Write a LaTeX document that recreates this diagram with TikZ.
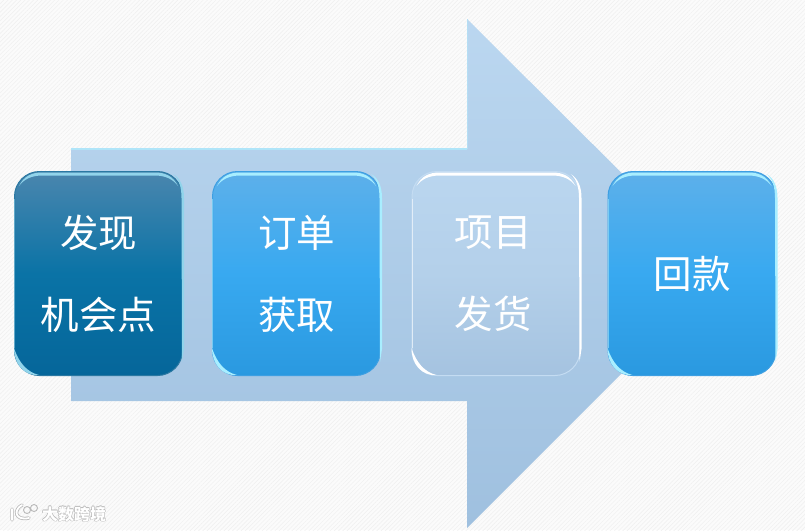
\documentclass[tikz,border=0pt]{standalone}
\usepackage{fontspec}
\newfontfamily\cjk{Noto Sans CJK SC}
\usetikzlibrary{calc,patterns.meta}
\definecolor{pagebg}{HTML}{FBFBFB}
\definecolor{hatch}{HTML}{F1F1F1}
\tikzset{
  x=1pt,y=-1pt,
  boxbase/.style={rounded corners=25pt,minimum width=168pt,minimum height=204pt,inner sep=0pt,
     text=white,align=center,font=\fontsize{38.5}{82}\selectfont\cjk,line width=1pt},
  deepbox/.style={boxbase,draw=deepE,top color=deepA,bottom color=deepC,middle color=deepB},
  bluebox/.style={boxbase,draw=blueE,top color=blueA,bottom color=blueC,middle color=blueB},
  palebox/.style={boxbase,draw=paleE,top color=paleA,bottom color=paleC,middle color=paleB},
  mark text/.style={font=\fontsize{16}{16}\selectfont\cjk\bfseries,text=white,inner sep=0pt},
}
\definecolor{deepA}{HTML}{4A86AE}\definecolor{deepB}{HTML}{0A73A6}\definecolor{deepC}{HTML}{05669A}\definecolor{deepE}{HTML}{2A78A2}
\definecolor{blueA}{HTML}{5DB0EA}\definecolor{blueB}{HTML}{38A9F0}\definecolor{blueC}{HTML}{2A99E0}\definecolor{blueE}{HTML}{3D9FE2}
\definecolor{paleA}{HTML}{BAD6EF}\definecolor{paleB}{HTML}{B4D0EA}\definecolor{paleC}{HTML}{A5C3E0}\definecolor{paleE}{HTML}{C4DCF2}
\definecolor{arrowA}{HTML}{BBD7F0}\definecolor{arrowM}{HTML}{B4D1EB}\definecolor{arrowB}{HTML}{9FC0DF}
\definecolor{rimc}{HTML}{A8EEFF}
% crescent highlights that follow the box edge
\newcommand{\boxrims}[2]{%
  % top stripe, tapered into both corners
  \fill[#2] ($(#1.north west)+(5,15)$) .. controls ($(#1.north west)+(10,5)$) and ($(#1.north west)+(18,1.5)$) .. ($(#1.north west)+(28,1.5)$)
     -- ($(#1.north east)+(-28,1.5)$) .. controls ($(#1.north east)+(-18,1.5)$) and ($(#1.north east)+(-10,5)$) .. ($(#1.north east)+(-5,15)$)
     .. controls ($(#1.north east)+(-10,8)$) and ($(#1.north east)+(-18,4.5)$) .. ($(#1.north east)+(-28,4.5)$)
     -- ($(#1.north west)+(28,4.5)$) .. controls ($(#1.north west)+(18,4.5)$) and ($(#1.north west)+(10,8)$) .. cycle;
  % right edge
  \fill[#2] ($(#1.north east)+(-10,3)$) .. controls ($(#1.north east)+(-3,7)$) and ($(#1.north east)+(1,15)$) .. ($(#1.north east)+(1,27)$)
     -- ($(#1.south east)+(1,-27)$) .. controls ($(#1.south east)+(0.5,-20)$) .. ($(#1.south east)+(-1,-14)$)
     -- ($(#1.north east)+(-1.5,27)$) .. controls ($(#1.north east)+(-1.5,16)$) and ($(#1.north east)+(-4,8)$) .. cycle;
  % bottom-left crescent
  \fill[#2] ($(#1.south west)+(0,-28)$) .. controls ($(#1.south west)+(0,-12)$) and ($(#1.south west)+(10,0)$) .. ($(#1.south west)+(25,-1)$)
     .. controls ($(#1.south west)+(13,-4)$) and ($(#1.south west)+(5,-13)$) .. cycle;
  % thin left edge
  \draw[#2,line width=0.8pt,opacity=0.55] ($(#1.north west)+(0.7,28)$) -- ($(#1.south west)+(0.7,-28)$);
}
\begin{document}
\begin{tikzpicture}
\useasboundingbox (0,0) rectangle (805,530);
\fill[pagebg] (0,0) rectangle (805,530);
\fill[pattern={Lines[angle=45,distance=3pt,line width=0.6pt]},pattern color=hatch] (0,0) rectangle (805,530);
% big arrow
\coordinate (s1) at (71,149);
\coordinate (s2) at (467,149);
\coordinate (h1) at (467,19);
\coordinate (tip) at (722,273);
\coordinate (h2) at (467,528);
\coordinate (s3) at (467,401);
\coordinate (s4) at (71,401);
\shade[top color=arrowA,middle color=arrowM,bottom color=arrowB] (s1) -- (s2) -- (h1) -- (tip) -- (h2) -- (s3) -- (s4) -- cycle;
\draw[line width=1.4pt,color=rimc!60!arrowA] (s1) -- (s2);
\draw[line width=0.8pt,color=rimc!30!arrowA] (s2) -- (h1);
% boxes
\node[deepbox] (b1) at (98.5,273.5) {发现\\机会点};
\node[bluebox] (b2) at (296.5,273.5) {订单\\获取};
\node[palebox] (b3) at (496,273.5) {\hspace*{-6pt}项目\\\hspace*{-6pt}发货};
\node[bluebox] (b4) at (692,273.5) {回款};
\boxrims{b1}{rimc!75!deepA}
\boxrims{b2}{rimc}
\boxrims{b3}{white}
\boxrims{b4}{rimc}
% watermark
\draw[gray!55,line width=3.4pt,line cap=round] (12,509) -- (12,520) (22,505) .. controls (13,510) and (15,521) .. (29,518);
\draw[white,line width=1.8pt,line cap=round] (12,509) -- (12,520) (22,505) .. controls (13,510) and (15,521) .. (29,518);
\draw[gray!55,line width=0.9pt] (27,510) circle[radius=3.5] (34,508) circle[radius=3.5];
\foreach \dx/\dy in {-0.7/0,0.7/0,0/-0.7,0/0.7}
  \node[mark text,text=gray!55] at ($(74,514)+(\dx,\dy)$) {大数跨境};
\node[mark text] (wm) at (74,514) {大数跨境};
\end{tikzpicture}
\end{document}
